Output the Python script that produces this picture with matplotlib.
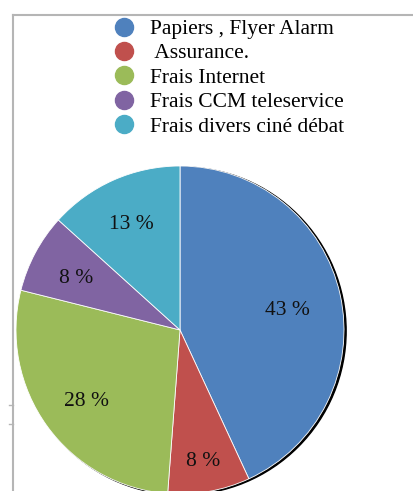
import matplotlib
matplotlib.use("Agg")
import matplotlib.pyplot as plt
import numpy as np
from matplotlib.lines import Line2D
from matplotlib.patches import Circle

categories = ["Papiers , Flyer Alarm", " Assurance.", "Frais Internet",
              "Frais CCM teleservice", "Frais divers ciné débat"]
values = [43.1, 8.1, 27.7, 7.8, 13.3]
colors = ["#4F81BD", "#C0504D", "#9BBB59", "#8064A2", "#4BACC6"]
label_dist = [0.67, 0.79, 0.70, 0.72, 0.73]

plt.rcParams['font.family'] = ['Liberation Serif', 'DejaVu Serif']

W, H = 414, 491
fig = plt.figure(figsize=(W / 100, H / 100), dpi=100)
ax = fig.add_axes([0, 0, 1, 1])

cx, cy, R = 180, 330, 164  # pixel layout

# shadow
ax.add_patch(Circle((0.013, -0.006), 1.0, color="black", zorder=0))

wedges, texts, autotexts = ax.pie(
    values, colors=colors, startangle=90, counterclock=False,
    autopct=lambda p: f"{p:.0f} %", pctdistance=0.7,
    wedgeprops=dict(edgecolor="white", linewidth=0.6),
    textprops=dict(fontsize=15.5, color="#111111"))

for w, t, d in zip(wedges, autotexts, label_dist):
    ang = np.deg2rad((w.theta1 + w.theta2) / 2)
    t.set_position((d * np.cos(ang), d * np.sin(ang) - 4 / R))

ax.set_aspect('auto')
ax.set_xlim(-cx / R, (W - cx) / R)
ax.set_ylim((cy - H) / R, cy / R)
ax.axis('off')

# border lines
bc = "#b5b5b5"
fig.add_artist(Line2D([13 / W, 1], [1 - 15 / H, 1 - 15 / H], color=bc, lw=1.5))
fig.add_artist(Line2D([13 / W, 13 / W], [0, 1 - 15 / H], color=bc, lw=1.5))
for ty in (405, 424):
    fig.add_artist(Line2D([9 / W, 13 / W], [1 - ty / H, 1 - ty / H], color=bc, lw=1))

handles = [Line2D([], [], marker='o', linestyle='none', markersize=13,
                  markerfacecolor=c, markeredgecolor=c) for c in colors]
fig.legend(handles, categories, loc='upper left',
           bbox_to_anchor=(113 / W, 1 - 19 / H), frameon=False,
           fontsize=15.5, handlelength=1.0, handletextpad=0.72,
           labelspacing=0.2, borderpad=0, borderaxespad=0)

fig.savefig("out.png", dpi=100)
